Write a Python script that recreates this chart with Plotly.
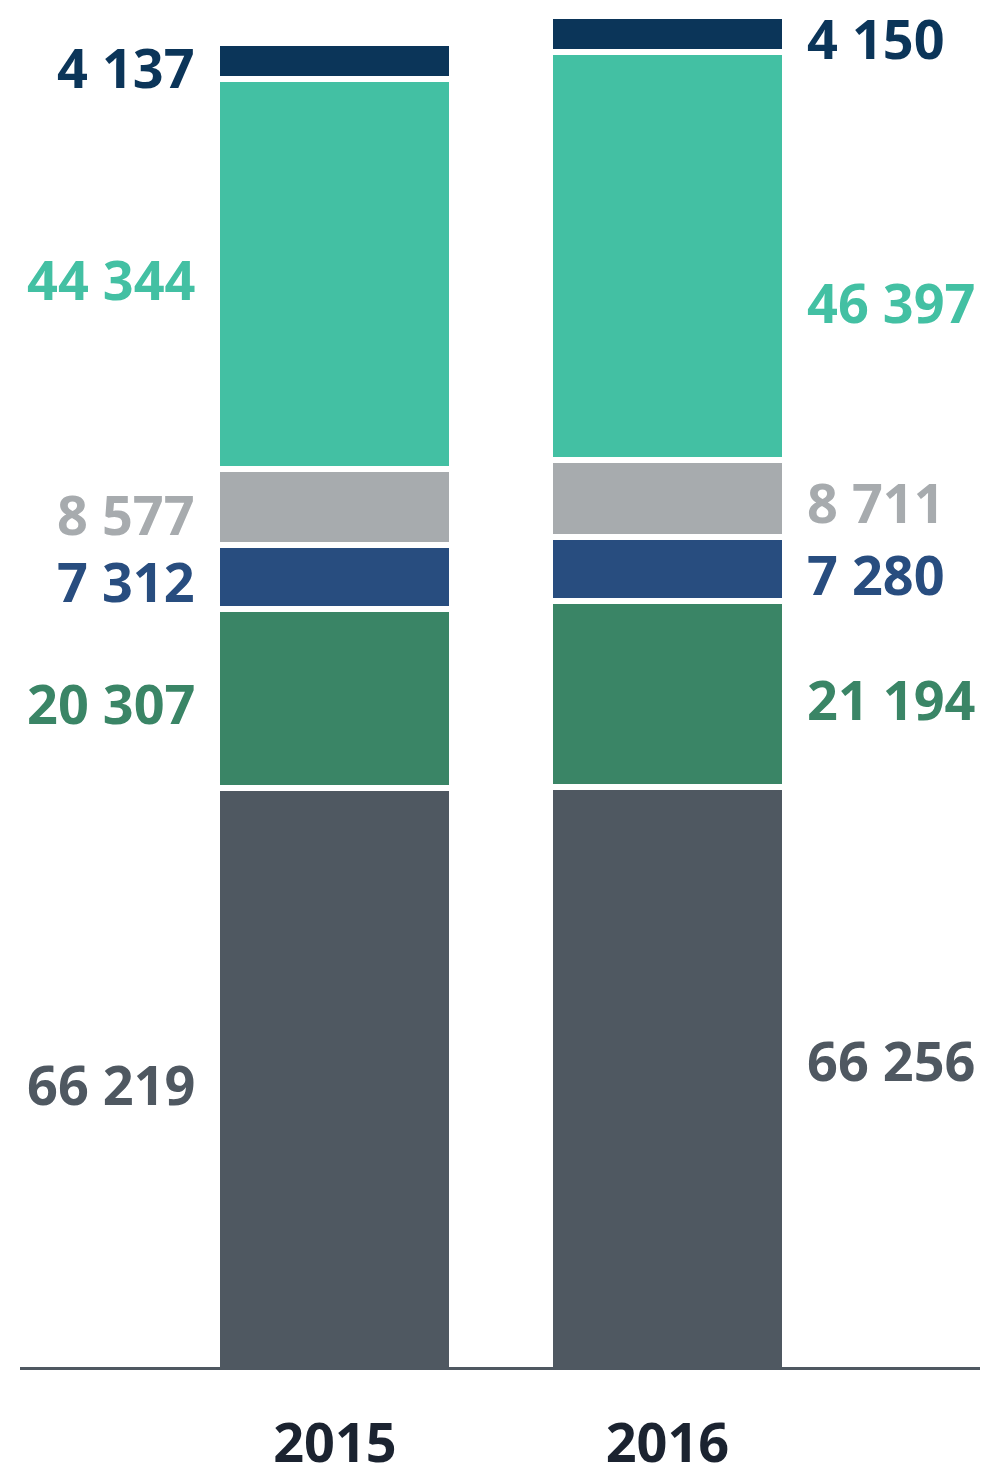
import plotly.graph_objects as go

years = ["2015", "2016"]
series_names = ["A", "B", "C", "D", "E", "F"]
values_2015 = [66219, 20307, 7312, 8577, 44344, 4137]
values_2016 = [66256, 21194, 7280, 8711, 46397, 4150]
colors = ["#4f5861", "#3a8566", "#284d7f", "#a7abae", "#43c0a3", "#0b3559"]
label_text_2015 = ["66 219", "20 307", "7 312", "8 577", "44 344", "4 137"]
label_text_2016 = ["66 256", "21 194", "7 280", "8 711", "46 397", "4 150"]
# vertical pixel offsets of the value labels from their segment centres (positive = lower)
label_offset_2015 = [6, 6, 5, 8, 6, 7]
label_offset_2016 = [-18, 6, 6, 4, 47, 5]

xpos = [0, 1]
bar_w = 0.707
font_family = "Open Sans"
fsize = 54

fig = go.Figure()
for i, name in enumerate(series_names):
    fig.add_trace(go.Bar(
        x=xpos, y=[values_2015[i], values_2016[i]], name=name,
        width=bar_w, marker=dict(color=colors[i], line=dict(color="white", width=6)),
        hoverinfo="skip", showlegend=False,
    ))

annotations = []
for col, vals, texts, offs in [(0, values_2015, label_text_2015, label_offset_2015),
                               (1, values_2016, label_text_2016, label_offset_2016)]:
    cum = 0
    for i, v in enumerate(vals):
        mid = cum + v / 2
        cum += v
        common = dict(y=mid, xref="x", yref="y", text=texts[i], showarrow=False, yanchor="middle",
                      yshift=-offs[i] + 1,
                      font=dict(family=font_family, size=fsize, color=colors[i], weight=700))
        if col == 0:
            annotations.append(dict(x=col - bar_w / 2, xanchor="right", xshift=-20, **common))
        else:
            annotations.append(dict(x=col + bar_w / 2, xanchor="left", xshift=20, **common))

fig.add_shape(type="line", xref="paper", yref="y", x0=0, x1=1, y0=0, y1=0,
              line=dict(color="#4f5861", width=6), layer="above")

fig.update_layout(
    barmode="stack",
    width=984, height=1470,
    margin=dict(l=20, r=4, t=7, b=100),
    paper_bgcolor="white", plot_bgcolor="white",
    annotations=annotations,
    xaxis=dict(range=[-0.947, 1.940], tickvals=xpos, ticktext=years, showgrid=False, zeroline=False,
               showline=False, ticks="", automargin=False,
               tickfont=dict(family=font_family, size=fsize, color="#1b2330", weight=700), ticklabelstandoff=37),
    yaxis=dict(range=[0, 155000], visible=False, showgrid=False, zeroline=False, automargin=False),
)

fig.write_html("out.html")
